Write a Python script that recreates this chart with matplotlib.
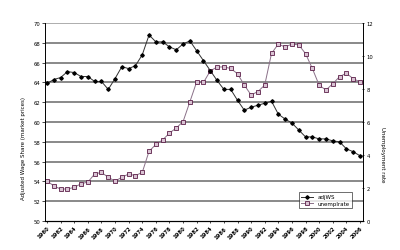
import numpy as np
import matplotlib
matplotlib.use("Agg")
import matplotlib.pyplot as plt

years = list(range(1960, 2007))

# adjusted wage share, left axis
adjWS = [63.9, 64.3, 64.5, 65.1, 65.0, 64.6, 64.6, 64.1, 64.1, 63.3,
         64.4, 65.6, 65.4, 65.7, 66.8, 68.8, 68.1, 68.1, 67.6, 67.3,
         67.9, 68.2, 67.2, 66.2, 65.2, 64.2, 63.3, 63.3, 62.2, 61.2,
         61.5, 61.7, 61.9, 62.1, 60.8, 60.3, 59.9, 59.2, 58.5, 58.5,
         58.3, 58.3, 58.1, 58.0, 57.3, 57.0, 56.6]

# unemployment rate, right axis
unemplrate = [2.44, 2.12, 1.94, 1.94, 2.04, 2.26, 2.36, 2.85, 2.95, 2.65,
              2.42, 2.65, 2.85, 2.75, 2.95, 4.23, 4.64, 4.92, 5.33, 5.64,
              6.03, 7.23, 8.44, 8.40, 9.10, 9.34, 9.34, 9.25, 8.93, 8.24,
              7.64, 7.85, 8.24, 10.16, 10.73, 10.55, 10.73, 10.68, 10.15, 9.25,
              8.24, 7.94, 8.32, 8.75, 8.96, 8.63, 8.44]

fig = plt.figure(figsize=(4, 2.51), dpi=100)
ax = fig.add_axes([0.1125, 0.1155, 0.795, 0.7885])
ax2 = ax.twinx()

ax.set_zorder(ax2.get_zorder() + 1)
ax.patch.set_visible(False)

l1, = ax.plot(years, adjWS, color="#303030", lw=0.7, marker="D", ms=1.8,
              mfc="black", mec="black", label="adjWS")
l2, = ax2.plot(years, unemplrate, color="#8a7088", lw=0.7, marker="s", ms=2.6,
               mfc="#d9c3d3", mec="#5b1f48", mew=0.6, label="unemplrate")

ax.set_xlim(1959.7, 2006.45)
ax.set_ylim(50, 70)
ax2.set_ylim(0, 12)
ax.set_yticks(np.arange(50, 71, 2))
ax2.set_yticks(np.arange(0, 13, 2))
ax.set_xticks(years[::2])
ax.set_xticklabels([str(y) for y in years[::2]], rotation=45, ha="right",
                   rotation_mode="anchor", fontsize=3.8, fontweight="bold")
ax.tick_params(axis="y", labelsize=3.8, length=2, width=0.5, pad=1.5)
ax2.tick_params(axis="y", labelsize=3.8, length=2, width=0.5, pad=1.5,
                direction="inout")
ax.tick_params(axis="x", length=1.5, width=0.5, pad=1.5)

for g in ax.get_yticks()[1:-1]:
    ax2.axhline((g - 50) * 12 / 20, color="#808080", lw=1.3, zorder=0)
ax2.axhline(12, color="#a0a0a0", lw=0.6, zorder=0)

for a in (ax, ax2):
    a.spines["top"].set_visible(False)
    a.spines["left"].set_linewidth(0.6)
    a.spines["right"].set_linewidth(0.6)
    a.spines["bottom"].set_linewidth(0.8)

ax.set_ylabel("Adjusted Wage Share (market prices)", fontsize=4)
ax.yaxis.set_label_coords(-0.06, 0.37)
ax2.set_ylabel("Unemployment rate", fontsize=4, rotation=270)
ax2.yaxis.set_label_coords(1.07, 0.34)

leg = ax.legend(handles=[l1, l2], loc="lower right", bbox_to_anchor=(0.975, 0.05),
                fontsize=4, frameon=True, fancybox=False, edgecolor="black",
                handlelength=2.2, borderpad=0.4, labelspacing=0.3)
leg.get_frame().set_linewidth(0.5)

fig.savefig("out.png", dpi=100)
